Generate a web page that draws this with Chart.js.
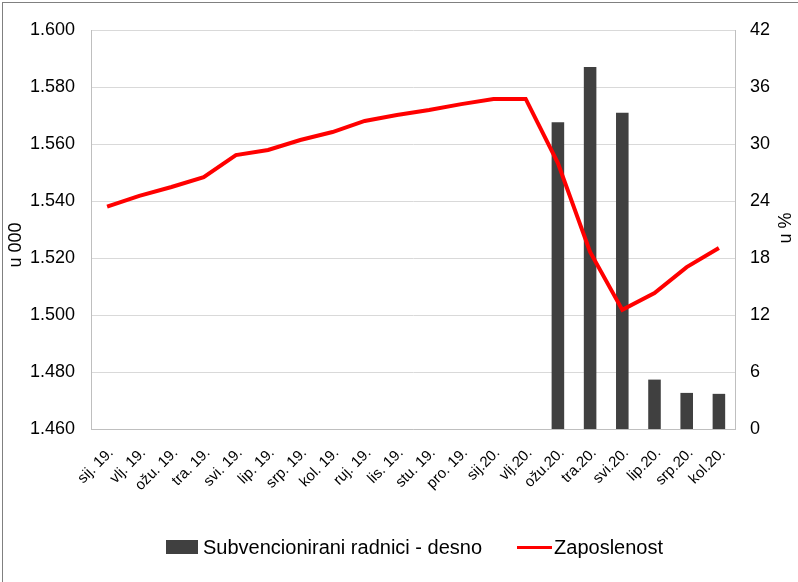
<!DOCTYPE html>
<html>
<head>
<meta charset="utf-8">
<script src="https://cdn.jsdelivr.net/npm/chart.js@4.4.0/dist/chart.umd.min.js"></script>
<style>
  body { margin: 0; background: #fff; }
  #wrap { position: relative; width: 798px; height: 582px; overflow: hidden; }
  #frame { position: absolute; left: 2px; top: 2px; width: 796px; height: 580px;
           border-left: 1px solid #808080; border-top: 1px solid #808080; pointer-events: none; }
  #legend { position: absolute; left: 166px; top: 535px; height: 24px; display: flex; align-items: center;
            font-family: "Liberation Sans", Arial, sans-serif; font-size: 20px; color: #000; white-space: nowrap; }
  .box { width: 32px; height: 14px; background: #404040; margin-right: 5px; }
  .ln { width: 35px; height: 3px; background: #ff0000; margin-left: 35px; margin-right: 2px; }
</style>
</head>
<body>
<div id="wrap">
  <canvas id="myChart" width="798" height="582"></canvas>
  <div id="frame"></div>
  <div id="legend">
    <span class="box"></span><span>Subvencionirani radnici - desno</span>
    <span class="ln"></span><span>Zaposlenost</span>
  </div>
</div>
<script>
const months = ['sij. 19.', 'vlj. 19.', 'ožu. 19.', 'tra. 19.', 'svi. 19.', 'lip. 19.', 'srp. 19.',
  'kol. 19.', 'ruj. 19.', 'lis. 19.', 'stu. 19.', 'pro. 19.', 'sij.20.', 'vlj.20.', 'ožu.20.',
  'tra.20.', 'svi.20.', 'lip.20.', 'srp.20.', 'kol.20.'];

// zaposlenost, u 000 (lijeva os)
const employment = [1.538, 1.5418, 1.5449, 1.5484, 1.5561, 1.5579, 1.5614, 1.5642, 1.5681, 1.5702,
  1.5719, 1.574, 1.5758, 1.5758, 1.5533, 1.5221, 1.5018, 1.5077, 1.5168, 1.5235];

// subvencionirani radnici, u % (desna os)
const subsidized = [null, null, null, null, null, null, null, null, null, null, null, null, null, null,
  32.3, 38.1, 33.3, 5.2, 3.8, 3.7];

const leftTicks = [1.46, 1.48, 1.5, 1.52, 1.54, 1.56, 1.58, 1.6];
const rightTicks = [0, 6, 12, 18, 24, 30, 36, 42];

const font = "'Liberation Sans', Arial, sans-serif";

// naslovi osi (oba čitaju odozdo prema gore)
const axisTitles = {
  id: 'axisTitles',
  afterDraw(chart) {
    const ctx = chart.ctx;
    ctx.save();
    ctx.fillStyle = '#000';
    ctx.font = '18px ' + font;
    ctx.textAlign = 'center';
    ctx.textBaseline = 'middle';
    ctx.translate(16, 245);
    ctx.rotate(-Math.PI / 2);
    ctx.fillText('u 000', 0, 0);
    ctx.restore();

    ctx.save();
    ctx.fillStyle = '#000';
    ctx.font = '18px ' + font;
    ctx.textAlign = 'center';
    ctx.textBaseline = 'middle';
    ctx.translate(786, 228);
    ctx.rotate(-Math.PI / 2);
    ctx.fillText('u %', 0, 0);
    ctx.restore();
  }
};

const myChart = document.getElementById('myChart');

new Chart(myChart, {
  data: {
    labels: months,
    datasets: [
      {
        type: 'line',
        label: 'Zaposlenost',
        data: employment,
        yAxisID: 'y',
        borderColor: '#ff0000',
        borderWidth: 4,
        pointRadius: 0,
        tension: 0,
        order: 0
      },
      {
        type: 'bar',
        label: 'Subvencionirani radnici - desno',
        data: subsidized,
        yAxisID: 'y1',
        backgroundColor: '#404040',
        borderWidth: 0,
        barPercentage: 0.39,
        categoryPercentage: 1,
        order: 1
      }
    ]
  },
  options: {
    responsive: false,
    animation: false,
    devicePixelRatio: 1,
    layout: { padding: { top: 30, left: 0, right: 0, bottom: 0 } },
    plugins: {
      legend: { display: false },
      tooltip: { enabled: false }
    },
    scales: {
      x: {
        grid: { display: false, drawTicks: false },
        border: { display: true, color: '#bfbfbf', width: 1 },
        ticks: {
          color: '#000',
          font: { family: font, size: 15 },
          minRotation: 45,
          maxRotation: 45,
          autoSkip: false,
          padding: 15,
          labelOffset: 4
        },
        afterFit(scale) { scale.height = 153; }
      },
      y: {
        position: 'left',
        min: 1.46,
        max: 1.6,
        grid: { color: '#d9d9d9', drawTicks: false },
        border: { display: true, color: '#bfbfbf' },
        afterBuildTicks(scale) { scale.ticks = leftTicks.map(v => ({ value: v })); },
        ticks: {
          color: '#000',
          font: { family: font, size: 18 },
          padding: 16,
          callback: v => v.toFixed(3)
        },
        afterFit(scale) { scale.width = 91; }
      },
      y1: {
        position: 'right',
        min: 0,
        max: 42,
        grid: { display: false, drawTicks: false },
        border: { display: true, color: '#bfbfbf' },
        afterBuildTicks(scale) { scale.ticks = rightTicks.map(v => ({ value: v })); },
        ticks: {
          color: '#000',
          font: { family: font, size: 18 },
          padding: 15
        },
        afterFit(scale) { scale.width = 63; }
      }
    }
  },
  plugins: [axisTitles]
});
</script>
</body>
</html>
